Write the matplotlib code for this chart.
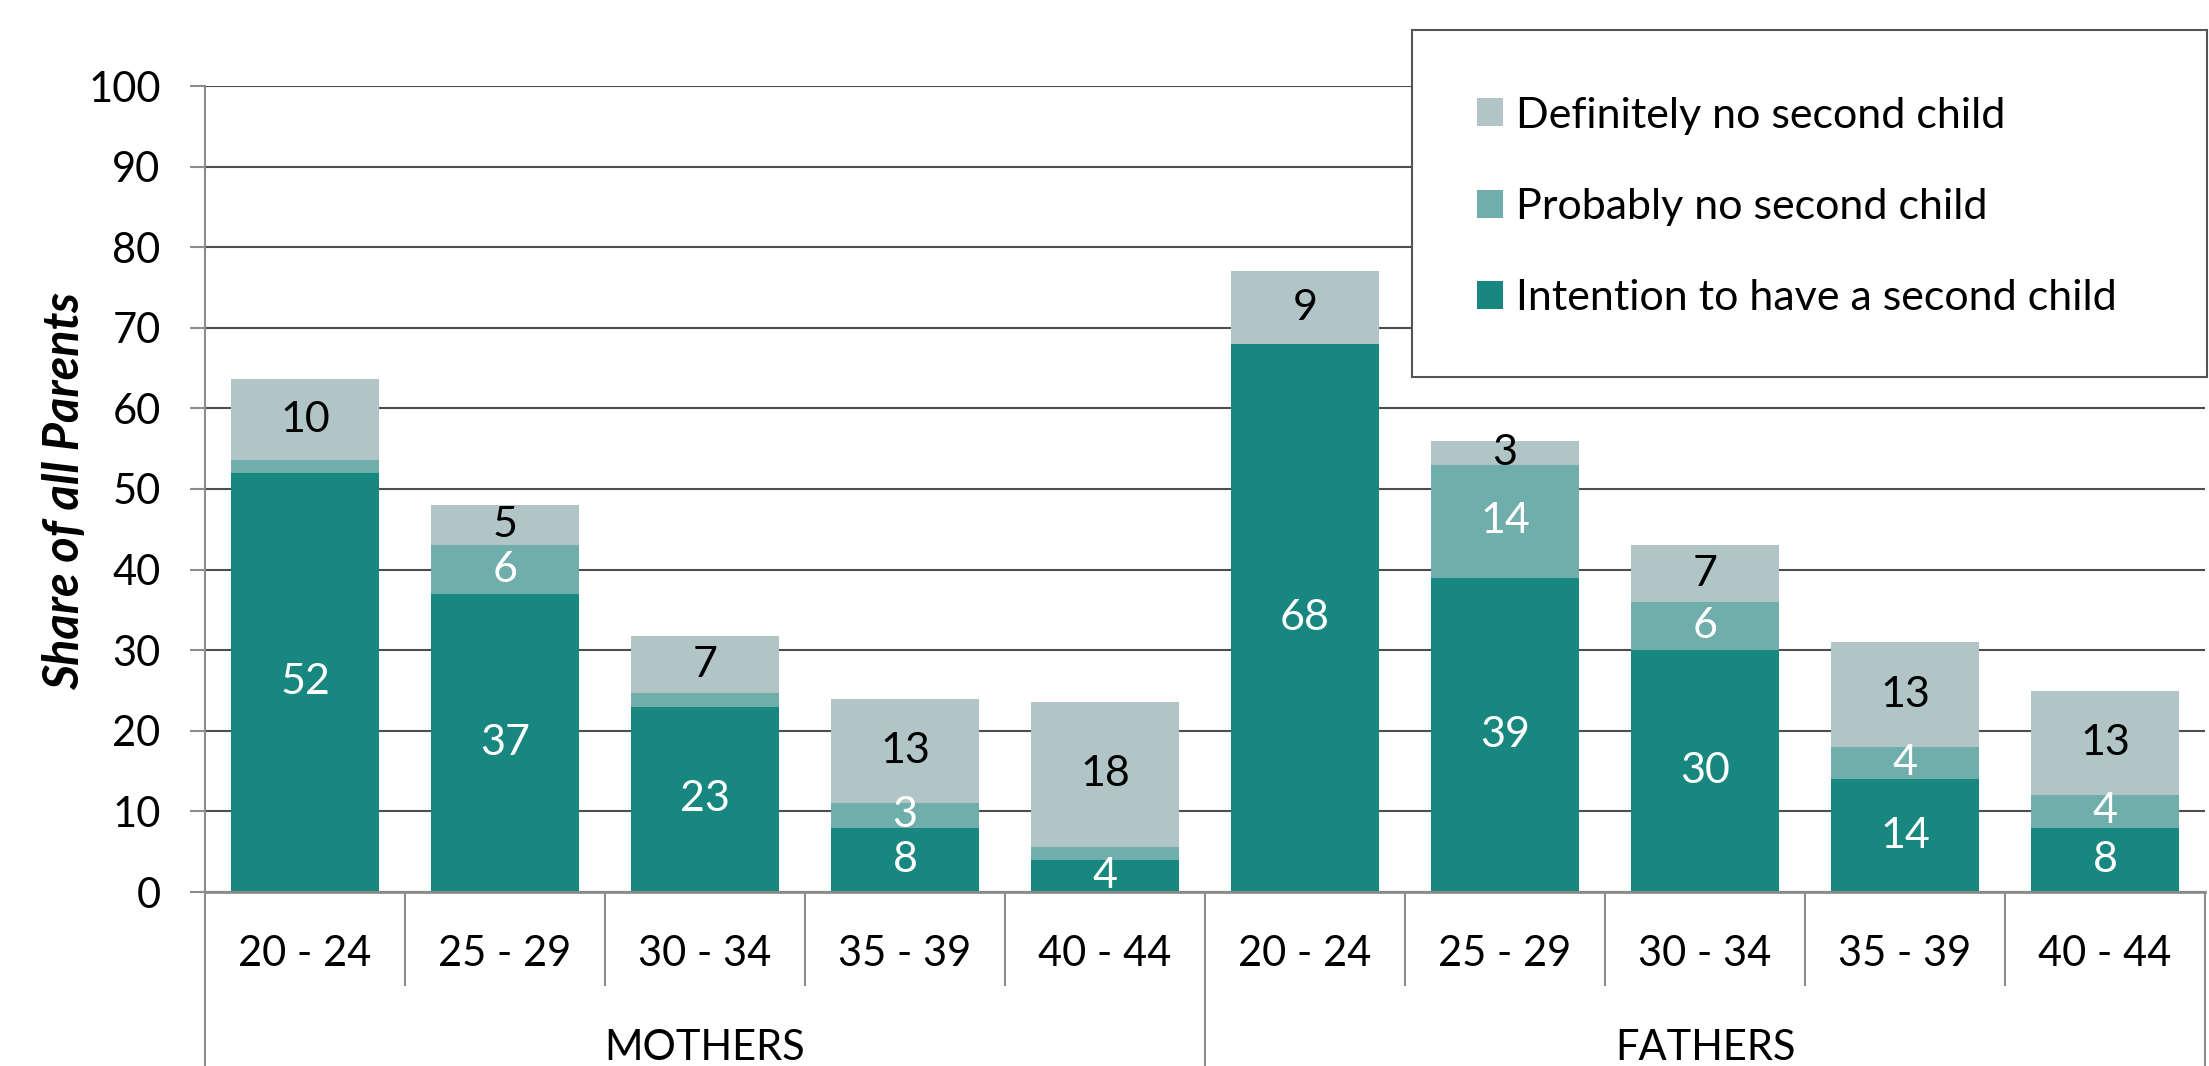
import numpy as np
import matplotlib
matplotlib.use("Agg")
import matplotlib.pyplot as plt
from matplotlib.patches import Rectangle, Patch

plt.rcParams['font.family'] = ['Lato', 'DejaVu Sans']

# data
groups = ['MOTHERS', 'FATHERS']
age_bands = ['20 - 24', '25 - 29', '30 - 34', '35 - 39', '40 - 44']
series = ['Intention to have a second child', 'Probably no second child', 'Definitely no second child']
intention = [52, 37, 23, 8, 4, 68, 39, 30, 14, 8]
probably = [1.6, 6, 1.7, 3, 1.6, 0, 14, 6, 4, 4]
definitely = [10, 5, 7, 13, 18, 9, 3, 7, 13, 13]

colors = ['#17877f', '#70aeac', '#b2c5c6']
text_colors = ['white', 'white', 'black']
grey = '#8c8c8c'

W, H = 2209, 1066
fig = plt.figure(figsize=(W / 100, H / 100), dpi=100)
ax = fig.add_axes([205 / W, 1 - 892 / H, 2000 / W, 806 / H])

x = np.arange(len(intention))
bottom = np.zeros(len(x))
for vals, col, tcol in zip([intention, probably, definitely], colors, text_colors):
    vals = np.array(vals, dtype=float)
    ax.bar(x, vals, bottom=bottom, width=0.74, color=col, zorder=2)
    for xi, b, v in zip(x, bottom, vals):
        if v >= 2.5:
            ax.text(xi, b + v / 2, f'{v:.0f}', ha='center', va='center',
                    color=tcol, fontsize=31, zorder=3)
    bottom += vals

ax.set_xlim(-0.5, len(x) - 0.5)
ax.set_ylim(0, 100)
ax.set_yticks(np.arange(0, 101, 10))
ax.set_xticks([])
ax.tick_params(axis='y', length=11, width=1.5, color=grey, pad=21, labelsize=30)
ax.yaxis.grid(True, color='#4d4d4d', lw=1.5)
ax.set_axisbelow(True)
for s in ['top', 'right']:
    ax.spines[s].set_visible(False)
ax.spines['left'].set_color(grey)
ax.spines['left'].set_linewidth(1.5)
ax.spines['bottom'].set_color(grey)
ax.spines['bottom'].set_linewidth(2)

# category labels and separators under the axis
trans = ax.get_xaxis_transform()
n = len(age_bands)
for i in range(len(x)):
    ax.text(i, -0.077, age_bands[i % n], ha='center', va='center',
            fontsize=30, transform=trans)
for b in np.arange(-0.5, len(x), 1.0):
    low = -0.23 if (b + 0.5) % n == 0 else -0.116
    ax.plot([b, b], [0, low], color=grey, lw=1.5, transform=trans, clip_on=False)
for g, name in enumerate(groups):
    ax.text(g * n + (n - 1) / 2, -0.1935, name, ha='center', va='center',
            fontsize=30, transform=trans)

fig.text(65 / W, 1 - 491 / H, 'Share of all Parents', rotation=90, ha='center',
         va='center', fontsize=35, fontweight='bold', fontstyle='italic')

# legend box
fig.add_artist(Rectangle((1412 / W, 1 - 377 / H), (2207 - 1412) / W, 347 / H,
                         transform=fig.transFigure, facecolor='white',
                         edgecolor='#555555', lw=1.5, zorder=4))
handles = [Patch(facecolor=c, label=s) for c, s in zip(colors, series)][::-1]
leg = fig.legend(handles=handles, loc='upper left', frameon=False,
                 bbox_to_anchor=(1455 / W, 1 - 75 / H), fontsize=31,
                 handlelength=0.62, handleheight=0.62, handletextpad=0.3,
                 labelspacing=1.24, borderpad=0)
leg.set_zorder(5)

fig.savefig('out.png', dpi=100)
